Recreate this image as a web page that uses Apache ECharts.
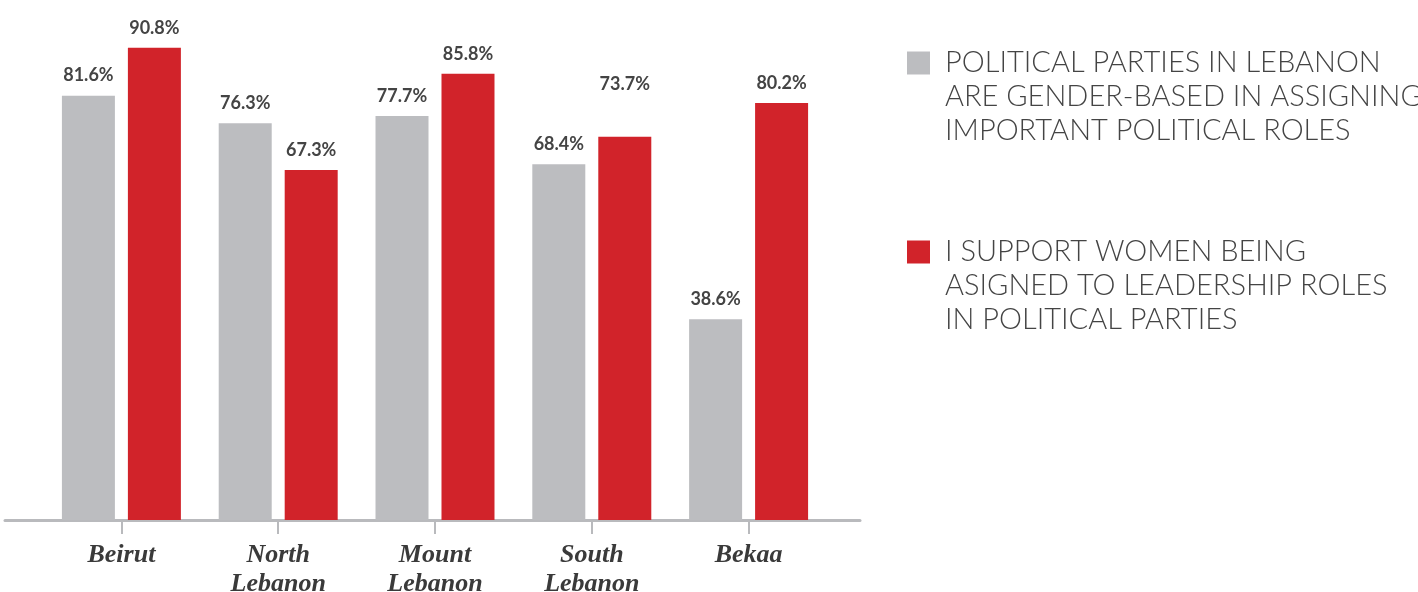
<!DOCTYPE html>
<html>
<head>
<meta charset="utf-8">
<script src="https://cdn.jsdelivr.net/npm/echarts@6/dist/echarts.min.js"></script>
<style>
  html, body { margin: 0; padding: 0; background: #ffffff; }
  #chart { width: 1418px; height: 592px; }
</style>
</head>
<body>
<div id="chart"></div>
<script>
// Regions of Lebanon along the category axis
const regions = ['Beirut', 'North\nLebanon', 'Mount\nLebanon', 'South\nLebanon', 'Bekaa'];

// Share of respondents (%) per region
const genderBasedRoles = [81.6, 76.3, 77.7, 68.4, 38.6];
const supportWomenLeaders = [90.8, 67.3, 85.8, 73.7, 80.2];

const seriesNames = [
  'POLITICAL PARTIES IN LEBANON\nARE GENDER-BASED IN ASSIGNING\nIMPORTANT POLITICAL ROLES',
  'I SUPPORT WOMEN BEING\nASIGNED TO LEADERSHIP ROLES\nIN POLITICAL PARTIES'
];

const GREY = '#bcbdc0';
const RED = '#d1232a';
const AXIS = '#b9babd';
const TEXT = '#444444';

const valueLabel = {
  show: true,
  position: 'top',
  distance: 11,
  formatter: p => p.value.toFixed(1) + '%',
  color: TEXT,
  fontFamily: 'Lato',
  fontWeight: 'bold',
  fontSize: 18
};

// The South Lebanon support label sits higher above its bar
const supportData = supportWomenLeaders.map((v, i) =>
  i === 3 ? { value: v, label: { offset: [0, -33] } } : v
);

const legendFont = {
  fontFamily: 'Lato',
  fontWeight: 300,
  fontSize: 29,
  lineHeight: 34,
  color: TEXT
};

const chart = echarts.init(document.getElementById('chart'), null, { renderer: 'canvas' });

chart.setOption({
  backgroundColor: '#ffffff',
  animation: false,
  legend: {
    orient: 'vertical',
    left: 907,
    top: -22,
    padding: 0,
    itemWidth: 23,
    itemHeight: 23,
    itemGap: 19,
    icon: 'rect',
    selectedMode: false,
    // two leading empty lines keep the swatch level with the first text line
    formatter: name => '\n\n' + name.split('\n').map(l => '{t|' + l + '}').join('\n'),
    textStyle: Object.assign({}, legendFont, {
      rich: { t: Object.assign({}, legendFont, { padding: [0, 0, 0, 10] }) }
    }),
    data: seriesNames
  },
  grid: [
    { left: 43, right: 591, top: 0, bottom: 72, outerBoundsMode: 'none', containLabel: false },
    { left: 5, right: 558, top: 0, bottom: 72, outerBoundsMode: 'none', containLabel: false }
  ],
  xAxis: [
    {
      type: 'category',
      gridIndex: 0,
      data: regions,
      axisLine: { show: false },
      axisTick: {
        show: true,
        alignWithLabel: true,
        length: 14,
        lineStyle: { color: AXIS, width: 2 }
      },
      axisLabel: {
        margin: 21,
        color: '#3a3a3a',
        fontFamily: 'Liberation Serif',
        fontStyle: 'italic',
        fontWeight: 'bold',
        fontSize: 26,
        lineHeight: 29
      }
    },
    {
      // Full-width baseline under the bars
      type: 'value',
      gridIndex: 1,
      min: 0,
      max: 1,
      axisLine: { show: true, onZero: false, lineStyle: { color: AXIS, width: 3 } },
      axisTick: { show: false },
      axisLabel: { show: false },
      splitLine: { show: false }
    }
  ],
  yAxis: [
    {
      type: 'value',
      gridIndex: 0,
      min: 0,
      max: 100,
      show: false,
      splitLine: { show: false }
    },
    {
      type: 'value',
      gridIndex: 1,
      show: false,
      splitLine: { show: false }
    }
  ],
  series: [
    {
      name: seriesNames[0],
      type: 'bar',
      xAxisIndex: 0,
      yAxisIndex: 0,
      data: genderBasedRoles,
      barWidth: 53,
      barGap: '24.5%',
      itemStyle: { color: GREY },
      label: valueLabel
    },
    {
      name: seriesNames[1],
      type: 'bar',
      xAxisIndex: 0,
      yAxisIndex: 0,
      data: supportData,
      barWidth: 53,
      barGap: '24.5%',
      itemStyle: { color: RED },
      label: valueLabel
    }
  ]
});
</script>
</body>
</html>
